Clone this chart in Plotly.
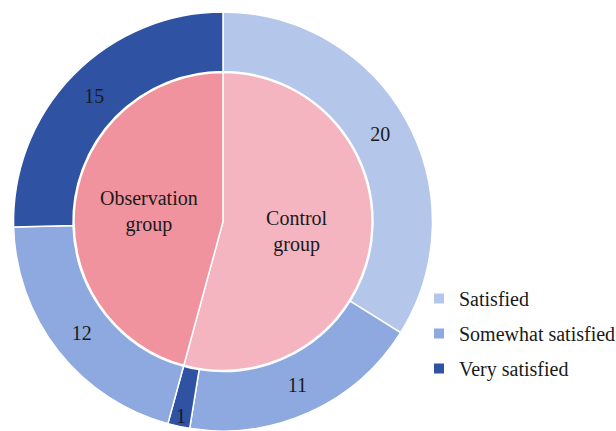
import plotly.graph_objects as go

# Satisfaction counts per group
groups = ["Control group", "Observation group"]
levels = ["Satisfied", "Somewhat satisfied", "Very satisfied"]
control_counts = [20, 11, 1]
observation_counts = [0, 12, 15]

level_colors = {"Satisfied": "#B4C6EA", "Somewhat satisfied": "#8EA9DF", "Very satisfied": "#2F52A3"}
group_colors = {"Control group": "#F4B5C1", "Observation group": "#F0939E"}

W, H = 616, 431
FONT = "Liberation Serif"

# Outer ring: one slice per (group, level) with a non-zero count
outer_labels, outer_values, outer_colors = [], [], []
for g, counts in zip(groups, [control_counts, observation_counts]):
    for lv, c in zip(levels, counts):
        if c > 0:
            outer_labels.append(f"{g} - {lv}")
            outer_values.append(c)
            outer_colors.append(level_colors[lv])

group_totals = [sum(control_counts), sum(observation_counts)]

cx, r_out, r_in = 223, 211, 150
x0, x1 = (cx - r_out) / W, (cx + r_out) / W
y_lo, y_hi = 0.0, 0.972
ring_px = (y_hi - y_lo) * H / 2
inner_r = r_in - 1
cy = (y_lo + y_hi) / 2 * H

fig = go.Figure()

fig.add_trace(go.Pie(
    labels=outer_labels, values=outer_values,
    marker=dict(colors=outer_colors, line=dict(color="white", width=1.5)),
    hole=r_in / ring_px, sort=False, direction="clockwise", rotation=0,
    texttemplate="%{value}", textposition="inside", insidetextorientation="horizontal",
    textfont=dict(family=FONT, size=20, color="#1a1a1a"),
    domain=dict(x=[x0, x1], y=[y_lo, y_hi]),
    showlegend=False, hoverinfo="label+value",
))

fig.add_trace(go.Pie(
    labels=groups, values=group_totals,
    text=[g.replace(" ", "<br>") for g in groups],
    marker=dict(colors=[group_colors[g] for g in groups], line=dict(color="white", width=1.5)),
    sort=False, direction="clockwise", rotation=0,
    texttemplate="%{text}", textposition="inside", insidetextorientation="horizontal",
    textfont=dict(family=FONT, size=20, color="#1a1a1a"),
    domain=dict(x=[(cx - inner_r) / W, (cx + inner_r) / W],
                y=[(cy - inner_r) / H, (cy + inner_r) / H]),
    showlegend=False, hoverinfo="label+value",
))

# Legend entries for the satisfaction levels
for lv in levels:
    fig.add_trace(go.Scatter(
        x=[None], y=[None], mode="markers", name=lv, legendgroup=lv,
        marker=dict(symbol="square", size=10, color=level_colors[lv]),
    ))

fig.update_layout(
    width=W, height=H,
    margin=dict(l=0, r=0, t=0, b=0, autoexpand=False),
    paper_bgcolor="white", plot_bgcolor="white",
    font=dict(family=FONT),
    xaxis=dict(visible=False), yaxis=dict(visible=False),
    uniformtext=dict(minsize=20, mode="show"),
    legend=dict(x=419 / W, y=1 - 279 / H, xanchor="left", yanchor="top",
                font=dict(family=FONT, size=20, color="#1a1a1a"),
                tracegroupgap=6, bgcolor="rgba(0,0,0,0)", itemclick=False),
)

fig.write_html("out.html")
